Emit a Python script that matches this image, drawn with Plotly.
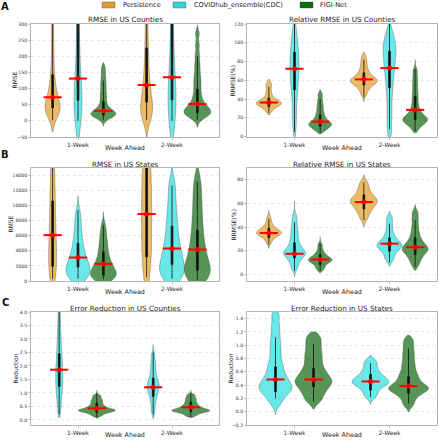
import plotly.graph_objects as go

W, H = 438, 440
FONT = "DejaVu Sans"
WEEKS = ["1-Week", "2-Week"]
NAMES = {"P": "Persistence", "C": "COVIDhub_ensemble(CDC)", "F": "FIGI-Net"}

# ================= DATA =================
# ---- A left: RMSE in US Counties ----
A1_SAMPLES = {
    "P": [[10, 20, 28, 35, 40, 45, 52, 60, 70, 85, 100, 120, 150, 190, 240, 300, 370, 450],
          [5, 12, 20, 28, 38, 48, 58, 70, 85, 100, 118, 140, 165, 195, 230, 270, 320, 380, 450]],
    "C": [[0, 15, 30, 45, 60, 75, 95, 120, 150, 190, 240, 300, 380, 480, 600, 750, 900],
          [0, 15, 30, 45, 60, 75, 95, 120, 150, 190, 240, 300, 380, 480, 600, 750, 900, 1100]],
    "F": [[5, 10, 14, 17, 19, 21, 23, 25, 28, 31, 35, 40, 48, 58, 70, 80, 92, 105, 118, 132, 148, 165],
          [8, 14, 18, 22, 25, 28, 31, 35, 39, 44, 50, 58, 68, 80, 95, 110, 125, 140, 160, 180, 205, 235, 270]],
}
A1_MEAN = {"P": [73, 111], "C": [131, 135], "F": [31, 52]}
A1_Q1 = {"P": [40, 58], "C": [64, 65], "F": [18, 24]}
A1_Q3 = {"P": [143, 226], "C": [400, 400], "F": [60, 98]}
A1_WLO = {"P": [2, 3], "C": [0, 0], "F": [3, 3]}
A1_WHI = {"P": [420, 450], "C": [900, 1000], "F": [125, 200]}
A1_TIPLO = {"P": [-34, -50], "C": [-150, -150], "F": [-16, -20]}
A1_TIPHI = {"P": [500, 500], "C": [1000, 1100], "F": [180, 297]}

# ---- A right: Relative RMSE in US Counties ----
A2_SAMPLES = {
    "P": [[27, 30, 32, 33, 34, 35, 35.5, 36, 37, 38, 39, 41, 44, 48, 53, 57],
          [45, 50, 53, 55, 57, 58, 59, 60, 61, 62, 64, 66, 69, 73, 78, 84]],
    "C": [[8, 20, 32, 42, 50, 56, 62, 67, 72, 77, 82, 87, 92, 98, 106, 115],
          [5, 18, 30, 42, 52, 60, 67, 73, 78, 83, 88, 92, 96, 100, 105, 112]],
    "F": [[6, 8, 10, 11, 12, 13, 14, 15, 16, 18, 20, 23, 26, 30, 34, 39, 45],
          [8, 12, 14, 16, 17, 18, 19, 20, 22, 24, 27, 31, 36, 42, 48, 55, 62, 70]],
}
A2_MEAN = {"P": [36.3, 61], "C": [72.3, 73], "F": [16, 28.5]}
A2_Q1 = {"P": [32, 55], "C": [50, 52], "F": [11, 18]}
A2_Q3 = {"P": [41, 68], "C": [90, 91], "F": [23, 43]}
A2_WLO = {"P": [25, 42], "C": [5, 8], "F": [4, 6]}
A2_WHI = {"P": [53, 82], "C": [120, 120], "F": [40, 72]}
A2_TIPLO = {"P": [23, 37], "C": [0, 0], "F": [3, 4]}
A2_TIPHI = {"P": [61, 90], "C": [125, 125], "F": [50, 82]}

# ---- B left: RMSE in US States ----
B1_SAMPLES = {
    "P": [[300, 1000, 1800, 2600, 3400, 4300, 5200, 6200, 7300, 8500, 9800, 11000, 12500, 14000, 16000, 18000, 20000],
          [500, 1500, 2500, 3500, 4500, 5500, 6500, 7500, 8500, 9500, 10500, 11500, 12500, 13500, 14500, 15500, 17000, 19000, 21000]],
    "C": [[200, 500, 800, 1100, 1400, 1700, 2000, 2400, 2800, 3300, 3900, 4600, 5400, 6400, 7600, 9000],
          [200, 600, 1000, 1400, 1800, 2300, 2800, 3400, 4000, 4700, 5500, 6400, 7400, 8500, 9800, 11300, 13000]],
    "F": [[150, 350, 550, 750, 950, 1200, 1450, 1750, 2100, 2500, 3000, 3600, 4300, 5100, 6000, 7200],
          [150, 450, 800, 1150, 1500, 1900, 2400, 3000, 3600, 4300, 5100, 6000, 7000, 8100, 9300, 10600, 12000, 13500]],
}
B1_MEAN = {"P": [6089, 8889], "C": [3111, 4311], "F": [2267, 4178]}
B1_Q1 = {"P": [1956, 3200], "C": [1867, 2222], "F": [756, 1422]}
B1_Q3 = {"P": [10622, 16000], "C": [4978, 7289], "F": [3867, 6756]}
B1_WLO = {"P": [300, 500], "C": [300, 300], "F": [200, 200]}
B1_WHI = {"P": [20000, 22000], "C": [9400, 12700], "F": [7400, 13200]}
B1_TIPLO = {"P": [-3000, -3000], "C": [-2000, -3000], "F": [-2000, -3000]}
B1_TIPHI = {"P": [25000, 25000], "C": [11300, 15000], "F": [9200, 16500]}

# ---- B right: Relative RMSE in US States ----
B2_SAMPLES = {
    "P": [[27, 30, 32, 33, 34, 34.5, 35, 35.5, 36, 37, 38, 39.5, 41, 44, 48],
          [47, 51, 54, 56, 58, 59.5, 61, 62, 63, 64.5, 66, 68, 71, 74, 78]],
    "C": [[5, 9, 12, 14, 16, 17, 18, 19, 20, 22, 24, 27, 30, 34, 38, 43, 49],
          [12, 15, 18, 20, 22, 23, 24, 25, 26, 27.5, 29, 31, 34, 38, 43, 48]],
    "F": [[4, 6, 8, 9.5, 10.5, 11.5, 12, 12.5, 13, 14, 15, 16.5, 18, 21, 25],
          [8, 12, 15, 17, 19, 20.5, 21.5, 22.5, 24, 26, 28, 31, 35, 40, 46, 52]],
}
B2_MEAN = {"P": [35, 61.2], "C": [17.4, 26], "F": [12.6, 23]}
B2_Q1 = {"P": [31, 55.3], "C": [14, 19.6], "F": [8.4, 16.8]}
B2_Q3 = {"P": [39, 67.4], "C": [26.7, 30.9], "F": [16.8, 31]}
B2_WLO = {"P": [25, 46], "C": [3, 10], "F": [3, 6]}
B2_WHI = {"P": [47, 78], "C": [44, 43], "F": [26, 46]}
B2_TIPLO = {"P": [22, 40], "C": [-2, 7], "F": [1.5, 3.6]}
B2_TIPHI = {"P": [54, 84], "C": [62, 53], "F": [32, 59]}

# ---- C left: Error Reduction in US Counties ----
C1_SAMPLES = {
    "C": [[0.3, 0.6, 0.85, 1.05, 1.2, 1.35, 1.5, 1.65, 1.8, 1.95, 2.1, 2.3, 2.5, 2.75, 3.0, 3.3, 3.7, 4.2],
          [0.3, 0.55, 0.75, 0.9, 1.0, 1.1, 1.18, 1.25, 1.32, 1.4, 1.5, 1.62, 1.78, 1.95, 2.15, 2.4]],
    "F": [[0.15, 0.22, 0.27, 0.3, 0.32, 0.34, 0.36, 0.38, 0.4, 0.43, 0.47, 0.52, 0.58, 0.65, 0.72, 0.8, 0.9],
          [0.15, 0.22, 0.27, 0.3, 0.32, 0.34, 0.36, 0.38, 0.41, 0.44, 0.48, 0.53, 0.59, 0.66, 0.74, 0.82, 0.92]],
}
C1_MEAN = {"C": [1.86, 1.21], "F": [0.43, 0.47]}
C1_Q1 = {"C": [1.24, 0.87], "F": [0.28, 0.31]}
C1_Q3 = {"C": [2.45, 1.55], "F": [0.62, 0.66]}
C1_WLO = {"C": [0.2, 0.2], "F": [0.1, 0.1]}
C1_WHI = {"C": [4.5, 2.5], "F": [1.0, 1.0]}
C1_TIPLO = {"C": [0.09, 0.06], "F": [0.06, 0.09]}
C1_TIPHI = {"C": [4.5, 2.79], "F": [1.11, 1.11]}

# ---- C right: Error Reduction in US States ----
C2_SAMPLES = {
    "C": [[0.12, 0.2, 0.26, 0.3, 0.33, 0.36, 0.39, 0.42, 0.46, 0.5, 0.55, 0.61, 0.68, 0.75, 0.85, 0.95, 1.05, 1.17, 1.3, 1.45],
          [0.22, 0.28, 0.33, 0.37, 0.4, 0.42, 0.44, 0.46, 0.48, 0.5, 0.53, 0.56, 0.6, 0.65, 0.71, 0.77]],
    "F": [[0.15, 0.22, 0.28, 0.33, 0.37, 0.41, 0.44, 0.47, 0.5, 0.54, 0.58, 0.63, 0.69, 0.76, 0.83, 0.9, 0.98, 1.06, 1.14],
          [0.1, 0.18, 0.24, 0.28, 0.31, 0.33, 0.35, 0.37, 0.39, 0.42, 0.46, 0.5, 0.55, 0.6, 0.67, 0.74, 0.82, 0.9, 0.99, 1.08]],
}
C2_MEAN = {"C": [0.485, 0.455], "F": [0.485, 0.385]}
C2_Q1 = {"C": [0.3, 0.325], "F": [0.375, 0.275]}
C2_Q3 = {"C": [0.675, 0.56], "F": [0.65, 0.525]}
C2_WLO = {"C": [0.2, 0.22], "F": [0.15, 0.12]}
C2_WHI = {"C": [1.12, 0.73], "F": [1.02, 0.95]}
C2_TIPLO = {"C": [-0.05, 0.11], "F": [0.04, 0.0]}
C2_TIPHI = {"C": [1.55, 0.85], "F": [1.2, 1.15]}

# ================= STYLE =================
FILL = {"P": "rgba(226,160,44,0.72)", "C": "rgba(40,222,222,0.70)", "F": "rgba(22,108,22,0.72)"}
SOLID = {"P": "#E0A030", "C": "#2ED8D8", "F": "#0E6E0E"}
EDGE = "rgba(70,70,70,0.5)"

# kernel bandwidths and max violin widths (px)
A1_BW = {"P": [25, 30], "C": [60, 70], "F": [9, 12]}
A1_WPX = {"P": [15, 12], "C": [8, 8], "F": [25, 27]}
A2_BW = {"P": [2.5, 3], "C": [9, 8], "F": [2.5, 3.5]}
A2_WPX = {"P": [25, 27], "C": [9, 13], "F": [23, 25]}
B1_BW = {"P": [2000, 2500], "C": [900, 1100], "F": [700, 1200]}
B1_WPX = {"P": [8, 10], "C": [24, 25], "F": [26, 26]}
B2_BW = {"P": [2.2, 2.8], "C": [2.8, 2.5], "F": [1.8, 2.8]}
B2_WPX = {"P": [25, 27], "C": [22, 25], "F": [24, 26]}
C1_BW = {"C": [0.28, 0.13], "F": [0.045, 0.045]}
C1_WPX = {"C": [7, 12], "F": [37, 38]}
C2_BW = {"C": [0.065, 0.04], "F": [0.055, 0.048]}
C2_WPX = {"C": [33, 37], "F": [37, 40]}

LEFT = (31, 219)
RIGHT = (247, 437)
ROWS = [(24, 137), (168, 281), (312, 425)]

PANELS = [
    dict(col=LEFT, row=ROWS[0], models=["P", "C", "F"], title="RMSE in US Counties", ytitle="RMSE",
         yrange=[-50, 300], dtick=50, fmt="d", S=A1_SAMPLES, M=A1_MEAN, Q1=A1_Q1, Q3=A1_Q3, WLO=A1_WLO,
         WHI=A1_WHI, TL=A1_TIPLO, TH=A1_TIPHI, BW=A1_BW, WPX=A1_WPX, yt_x=14),
    dict(col=RIGHT, row=ROWS[0], models=["P", "C", "F"], title="Relative RMSE in US Counties", ytitle="RRMSE(%)",
         yrange=[-0.4, 120], dtick=20, fmt="d", S=A2_SAMPLES, M=A2_MEAN, Q1=A2_Q1, Q3=A2_Q3, WLO=A2_WLO,
         WHI=A2_WHI, TL=A2_TIPLO, TH=A2_TIPHI, BW=A2_BW, WPX=A2_WPX, yt_x=232),
    dict(col=LEFT, row=ROWS[1], models=["P", "C", "F"], title="RMSE in US States", ytitle="RMSE",
         yrange=[0, 15000], dtick=2000, fmt="d", S=B1_SAMPLES, M=B1_MEAN, Q1=B1_Q1, Q3=B1_Q3, WLO=B1_WLO,
         WHI=B1_WHI, TL=B1_TIPLO, TH=B1_TIPHI, BW=B1_BW, WPX=B1_WPX, yt_x=10),
    dict(col=RIGHT, row=ROWS[1], models=["P", "C", "F"], title="Relative RMSE in US States", ytitle="RRMSE(%)",
         yrange=[-5.6, 90], dtick=20, fmt="d", S=B2_SAMPLES, M=B2_MEAN, Q1=B2_Q1, Q3=B2_Q3, WLO=B2_WLO,
         WHI=B2_WHI, TL=B2_TIPLO, TH=B2_TIPHI, BW=B2_BW, WPX=B2_WPX, yt_x=233),
    dict(col=LEFT, row=ROWS[2], models=["C", "F"], title="Error Reduction in US Counties", ytitle="Reduction",
         yrange=[-0.19, 4.0], dtick=0.5, fmt=".1f", S=C1_SAMPLES, M=C1_MEAN, Q1=C1_Q1, Q3=C1_Q3, WLO=C1_WLO,
         WHI=C1_WHI, TL=C1_TIPLO, TH=C1_TIPHI, BW=C1_BW, WPX=C1_WPX, yt_x=15),
    dict(col=RIGHT, row=ROWS[2], models=["C", "F"], title="Error Reduction in US States", ytitle="Reduction",
         yrange=[-0.2, 1.5], dtick=0.2, fmt=".1f", S=C2_SAMPLES, M=C2_MEAN, Q1=C2_Q1, Q3=C2_Q3, WLO=C2_WLO,
         WHI=C2_WHI, TL=C2_TIPLO, TH=C2_TIPHI, BW=C2_BW, WPX=C2_WPX, yt_x=230),
]

OFFSETS = {3: [-0.27, 0.0, 0.27], 2: [-0.2, 0.2]}
XRANGE = [-0.5, 1.5]


def fx(x):
    return x / W


def fy(y):
    return 1 - y / H


fig = go.Figure()
layout = dict(
    template="none",
    width=W, height=H, margin=dict(l=0, r=0, t=0, b=0),
    paper_bgcolor="white", plot_bgcolor="white",
    font=dict(family=FONT, size=6, color="#222"),
    showlegend=False, violinmode="overlay", boxmode="overlay",
)
annotations = []
shapes = []

for i, p in enumerate(PANELS, start=1):
    xa = "x" if i == 1 else f"x{i}"
    ya = "y" if i == 1 else f"y{i}"
    x0, x1 = p["col"]
    y0, y1 = p["row"]
    ppu = (x1 - x0) / (XRANGE[1] - XRANGE[0])
    offs = OFFSETS[len(p["models"])]
    mx, my = [], []
    for m, off in zip(p["models"], offs):
        for g in range(2):
            pos = g + off
            fig.add_trace(go.Violin(
                x0=pos, y=p["S"][m][g], xaxis=xa, yaxis=ya,
                width=p["WPX"][m][g] / ppu, bandwidth=p["BW"][m][g],
                spanmode="manual", span=[p["TL"][m][g], p["TH"][m][g]],
                scalemode="width", fillcolor=FILL[m], line=dict(color=EDGE, width=0.7),
                points=False, box_visible=False, meanline_visible=False,
                hoverinfo="skip", name=NAMES[m]))
            q1, q3 = p["Q1"][m][g], p["Q3"][m][g]
            fig.add_trace(go.Box(
                x=[pos], q1=[q1], median=[(q1 + q3) / 2], q3=[q3],
                lowerfence=[p["WLO"][m][g]], upperfence=[p["WHI"][m][g]],
                xaxis=xa, yaxis=ya, width=1.7 / ppu, whiskerwidth=0,
                fillcolor="#111", line=dict(color="#111", width=0.8), boxpoints=False,
                hoverinfo="skip"))
            mx.append(pos)
            my.append(p["M"][m][g])
    fig.add_trace(go.Scatter(x=mx, y=my, xaxis=xa, yaxis=ya, mode="markers",
                             marker=dict(symbol="line-ew", size=13, line=dict(color="red", width=2)),
                             hoverinfo="skip", cliponaxis=False))
    fig.add_trace(go.Scatter(x=mx, y=my, xaxis=xa, yaxis=ya, mode="markers",
                             marker=dict(symbol="circle", size=5, color="red"),
                             hoverinfo="skip", cliponaxis=False))

    key = "" if i == 1 else str(i)
    layout["xaxis" + key] = dict(
        domain=[fx(x0), fx(x1)], range=XRANGE, type="linear", anchor=ya,
        tickvals=[0, 1], ticktext=WEEKS, showgrid=False, zeroline=False,
        showline=True, mirror=True, linecolor="#b5b5b5", linewidth=1,
        ticks="outside", ticklen=2, tickwidth=0.6, tickcolor="#999",
        tickfont=dict(size=6, color="#333"), fixedrange=True)
    layout["yaxis" + key] = dict(
        domain=[fy(y1), fy(y0)], range=p["yrange"], anchor=xa, dtick=p["dtick"],
        tick0=0, tickformat=p["fmt"], showgrid=True, gridcolor="#e2e2e2", griddash="dot",
        gridwidth=0.8, zeroline=False, showline=True, mirror=True, linecolor="#b5b5b5",
        linewidth=1, ticks="outside", ticklen=2, tickwidth=0.6, tickcolor="#999",
        tickfont=dict(size=4.6, color="#333"), fixedrange=True)

    annotations.append(dict(text=p["title"], x=fx((x0 + x1) / 2), y=fy(y0 - 4), xref="paper", yref="paper",
                            xanchor="center", yanchor="middle", showarrow=False,
                            font=dict(size=7.2, color="#222")))
    annotations.append(dict(text="Week Ahead", x=fx((x0 + x1) / 2), y=fy(min(y1 + 11, 435)), xref="paper",
                            yref="paper", xanchor="center", yanchor="middle", showarrow=False,
                            font=dict(size=6.4, color="#222")))
    annotations.append(dict(text=p["ytitle"], x=fx(p["yt_x"]), y=fy((y0 + y1) / 2), xref="paper", yref="paper",
                            xanchor="center", yanchor="middle", showarrow=False, textangle=-90,
                            font=dict(size=6, color="#222")))

for letter, yy in [("A", 6), ("B", 154), ("C", 302)]:
    annotations.append(dict(text="<b>%s</b>" % letter, x=fx(5), y=fy(yy), xref="paper", yref="paper",
                            xanchor="center", yanchor="middle", showarrow=False,
                            font=dict(size=10, color="#111")))

# legend
LEG = [("P", 102, 120.5), ("C", 173, 192), ("F", 300, 317.5)]
for m, px0, tx in LEG:
    shapes.append(dict(type="rect", xref="paper", yref="paper", x0=fx(px0), x1=fx(px0 + 13),
                       y0=fy(8), y1=fy(2), fillcolor=SOLID[m], line=dict(color="rgba(60,60,60,0.6)", width=0.6)))
    annotations.append(dict(text=NAMES[m], x=fx(tx), y=fy(5), xref="paper", yref="paper",
                            xanchor="left", yanchor="middle", showarrow=False,
                            font=dict(size=6.6, color="#222")))

layout["annotations"] = annotations
layout["shapes"] = shapes
fig.update_layout(**layout)
fig.write_html("out.html", config={"displayModeBar": False, "staticPlot": True},
               post_script="document.body.style.margin='0px';document.body.style.overflow='hidden';")
